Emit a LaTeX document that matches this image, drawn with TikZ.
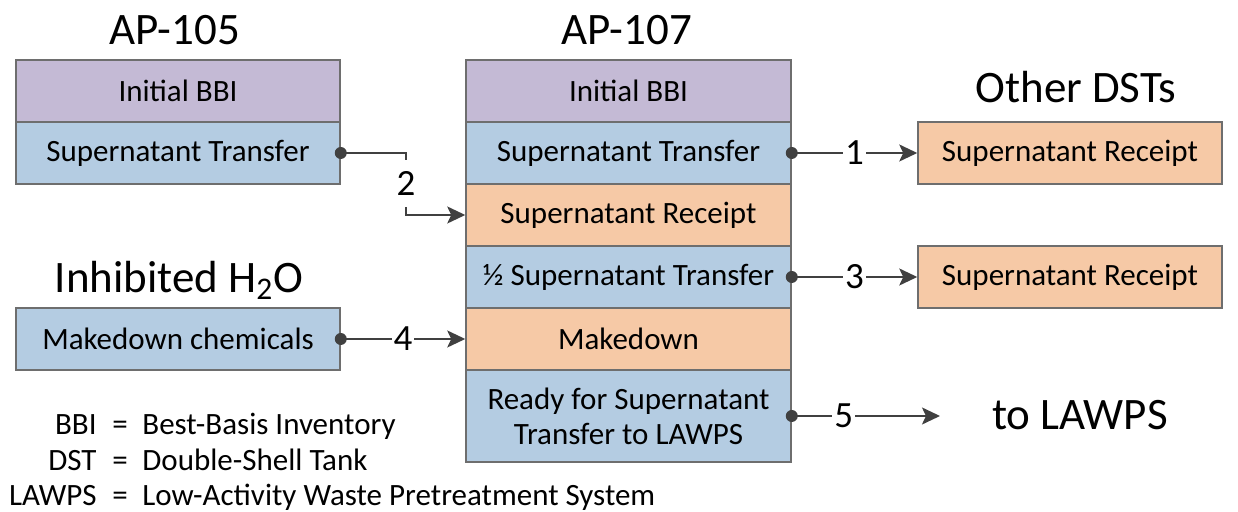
\documentclass[tikz,border=0pt]{standalone}
\usepackage{fontspec}
\setmainfont{Carlito}
\usetikzlibrary{arrows.meta}

\definecolor{boxline}{RGB}{110,110,110}
\definecolor{bbipurple}{RGB}{196,186,213}
\definecolor{xferblue}{RGB}{180,204,226}
\definecolor{rcptorange}{RGB}{246,201,166}
\definecolor{linkgray}{RGB}{64,64,64}

\begin{document}
\begin{tikzpicture}[x=0.5pt, y=-0.5pt,
  cell/.style={draw=boxline, line width=0.75pt, inner sep=0pt, align=center,
    minimum height=31pt, font=\fontsize{15.5}{17.5}\selectfont},
  leftcell/.style={cell, minimum width=162pt},
  midcell/.style={cell, minimum width=162.5pt},
  rightcell/.style={cell, minimum width=152pt},
  bbi/.style={fill=bbipurple},
  xfer/.style={fill=xferblue},
  rcpt/.style={fill=rcptorange},
  heading/.style={font=\fontsize{22.5}{27}\selectfont, anchor=base, inner sep=0pt},
  legend/.style={font=\fontsize{15.5}{18}\selectfont, inner sep=0pt},
  link/.style={draw=linkgray, line width=1pt,
    -{Stealth[length=9pt, width=8.5pt, inset=2pt]}},
  tag/.style={fill=white, inner xsep=1pt, inner ysep=0.5pt, text height=11.5pt,
    text depth=0pt, font=\fontsize{18.5}{21}\selectfont},
  dot/.style={fill=linkgray}
]
\useasboundingbox (0,0) rectangle (1238,512);

% tank headings
\node[heading] (h105) at (175,45) {AP-105};
\node[heading] (h107) at (627,45) {AP-107};
\node[heading] (hdst) at (1076,103) {Other DSTs};
\node[heading] (hh2o) at (179,293) {Inhibited H\textsubscript{2}O};

% AP-105 column
\node[leftcell, bbi]  (a1) at (178,91)  {Initial BBI};
\node[leftcell, xfer] (a2) at (178,153) {Supernatant Transfer};

% inhibited water column
\node[leftcell, xfer] (w1) at (178,339) {Makedown chemicals};

% AP-107 column
\node[midcell, bbi]  (b1) at (628.5,91)  {Initial BBI};
\node[midcell, xfer] (b2) at (628.5,153) {Supernatant Transfer};
\node[midcell, rcpt] (b3) at (628.5,215) {Supernatant Receipt};
\node[midcell, xfer] (b4) at (628.5,277) {\textonehalf{} Supernatant Transfer};
\node[midcell, rcpt] (b5) at (628.5,339) {Makedown};
\node[midcell, xfer, minimum height=46pt] (b6) at (628.5,416)
  {Ready for Supernatant\\Transfer to LAWPS};

% receiving tanks
\node[rightcell, rcpt] (c1) at (1070,153) {Supernatant Receipt};
\node[rightcell, rcpt] (c2) at (1070,277) {Supernatant Receipt};

% destination
\node[heading] (lawps) at (1080,430) {to LAWPS};
\coordinate (lawpsin) at (940,416);

% transfers
\draw[link] (b2.east) -- node[tag] {1} (c1.west);
\draw[link] (a2.east) -- (406,153) -- node[tag, inner ysep=6pt] {2} (406,215) -- (b3.west);
\draw[link] (b4.east) -- node[tag] {3} (c2.west);
\draw[link] (w1.east) -- node[tag] {4} (b5.west);
\draw[link] (b6.east) -- node[tag, pos=0.35] {5} (lawpsin);

\fill[dot] (b2.east) circle (3pt);
\fill[dot] (a2.east) circle (3pt);
\fill[dot] (b4.east) circle (3pt);
\fill[dot] (w1.east) circle (3pt);
\fill[dot] (b6.east) circle (3pt);

% abbreviations
\node[legend, anchor=base east] (k1) at (97,435) {BBI};
\node[legend, anchor=base west] (e1) at (112,435) {=};
\node[legend, anchor=base west] (d1) at (142,435) {Best-Basis Inventory};
\node[legend, anchor=base east] (k2) at (97,471) {DST};
\node[legend, anchor=base west] (e2) at (112,471) {=};
\node[legend, anchor=base west] (d2) at (142,471) {Double-Shell Tank};
\node[legend, anchor=base east] (k3) at (97,506) {LAWPS};
\node[legend, anchor=base west] (e3) at (112,506) {=};
\node[legend, anchor=base west] (d3) at (142,506) {Low-Activity Waste Pretreatment System};
\end{tikzpicture}
\end{document}
